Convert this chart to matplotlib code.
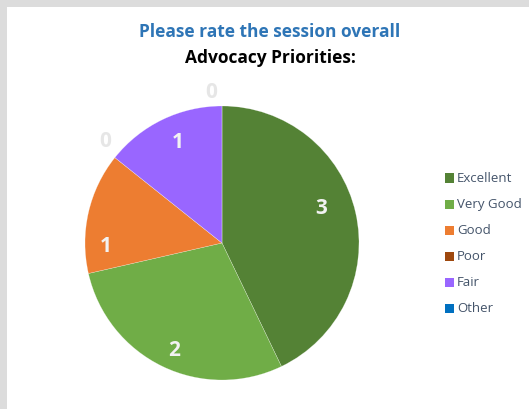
import numpy as np
import matplotlib.pyplot as plt
from matplotlib.patches import Rectangle

categories = ["Excellent", "Very Good", "Good", "Poor", "Fair", "Other"]
counts = [3, 2, 1, 0, 1, 0]
colors = ["#548235", "#70AD47", "#ED7D31", "#9E480E", "#9966FF", "#0070C0"]

plt.rcParams["font.family"] = ["Open Sans", "DejaVu Sans"]

W, H = 529, 409
fig = plt.figure(figsize=(W / 100, H / 100), dpi=100)
fig.patch.set_facecolor("#DCDCDC")
# white panel inside the gray frame
fig.patches.append(Rectangle((7 / W, 0), 1, 1 - 7 / H, transform=fig.transFigure,
                             facecolor="white", edgecolor="none", zorder=-5))

fig.text(270 / W, 1 - 32 / H, "Please rate the session overall", ha="center", va="center",
         fontsize=12.5, fontweight="bold", color="#2E75B6")
fig.text(270 / W, 1 - 58 / H, "Advocacy Priorities:", ha="center", va="center",
         fontsize=12.5, fontweight="bold", color="black")

# pie
cx, cy, r = 222, 243, 137
ax = fig.add_axes([(cx - r) / W, (H - cy - r) / H, 2 * r / W, 2 * r / H])
ax.set_zorder(2)
wedges, _ = ax.pie(counts, colors=colors, startangle=90, counterclock=False, radius=1,
                   wedgeprops=dict(edgecolor="#FFFFFF80", linewidth=0.3))
ax.set_xlim(-1, 1)
ax.set_ylim(-1, 1)
ax.set_aspect("equal")
ax.axis("off")

# small nudges (px) mimicking Excel's best-fit label placement
nudge = [(-10, 10), (1, -6), (-7, -28), (4, 5), (5, -1), (-11, -4)]
for w, v, (ndx, ndy) in zip(wedges, counts, nudge):
    mid = np.deg2rad((w.theta1 + w.theta2) / 2)
    if v > 0:
        d, col = 0.82, "#F2F2F2"
    else:
        d, col = 1.13, "#E6E6E6"
    ax.text(d * np.cos(mid) + ndx / r, d * np.sin(mid) + ndy / r, str(v),
            ha="center", va="center", fontsize=15, fontweight="bold", color=col,
            clip_on=False)

# legend
for i, (name, c) in enumerate(zip(categories, colors)):
    y = 1 - (178 + 26 * i) / H
    fig.patches.append(Rectangle((445 / W, y - 4.5 / H), 9 / W, 9 / H,
                                 transform=fig.transFigure, facecolor=c,
                                 edgecolor="none"))
    fig.text(457 / W, y, name, ha="left", va="center", fontsize=9.5, color="#44546A")

fig.savefig("out.png", dpi=100, facecolor=fig.get_facecolor())
